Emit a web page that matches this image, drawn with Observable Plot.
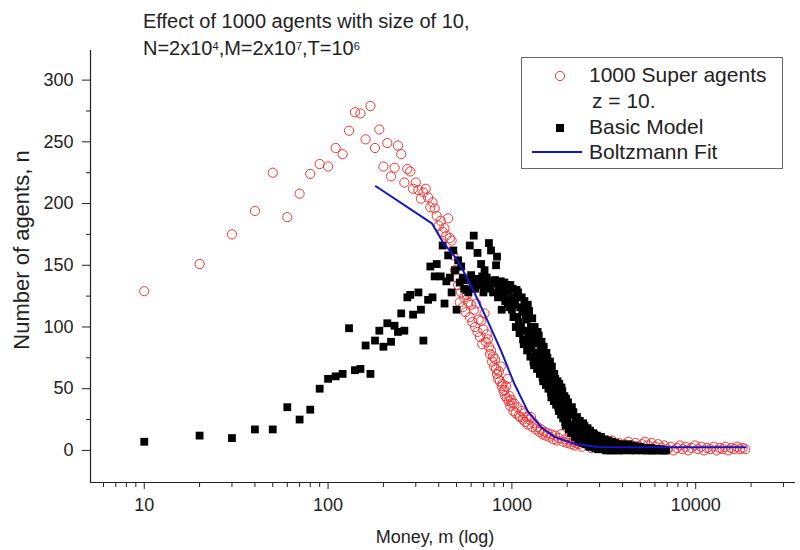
<!DOCTYPE html>
<html><head><meta charset="utf-8">
<script src="https://cdn.jsdelivr.net/npm/d3@7"></script>
<script src="https://cdn.jsdelivr.net/npm/@observablehq/plot@0.6"></script>
<style>
body{margin:0;background:#fff;font-family:"Liberation Sans",Arial,sans-serif;color:#222;}
#wrap{position:relative;width:800px;height:550px;overflow:hidden;}
.abs{position:absolute;white-space:nowrap;}
#title{left:143px;top:8px;font-size:20px;line-height:27px;}
#title sup{font-size:11px;vertical-align:top;position:relative;top:-2px;}
#legend{left:521px;top:57px;width:260px;height:110px;border:1px solid #666;background:#fff;}
.lt{font-size:21px;line-height:24px;}
#xlabel{left:0;width:800px;text-align:center;top:527px;font-size:18px;padding-left:70px;box-sizing:border-box;}
#ylabel{font-size:22px;left:22px;top:250px;transform:translate(-50%,-50%) rotate(-90deg);}
</style></head><body>
<div id="wrap">
<div id="chart"></div>
<div id="title" class="abs">Effect of 1000 agents with size of 10,<br>N=2x10<sup>4</sup>,M=2x10<sup>7</sup>,T=10<sup>6</sup></div>
<div id="legend" class="abs"></div>
<svg class="abs" style="left:0;top:0" width="800" height="550" id="legsym"></svg>
<div class="abs lt" style="left:589px;top:63px">1000 Super agents</div>
<div class="abs lt" style="left:592px;top:89px">z = 10.</div>
<div class="abs lt" style="left:589px;top:115px">Basic Model</div>
<div class="abs lt" style="left:589px;top:140px">Boltzmann Fit</div>
<div id="xlabel" class="abs">Money, m (log)</div>
<div id="ylabel" class="abs">Number of agents, n</div>
</div>
<script>
// Series values: [money m, number of agents n]
const superAgents = [
[10,129],[20,151],[30,175],[40,194],[50,225],[60,189],[70,208],[80,224],[90,232],[100,230],
[110,245],[120,240],[130,259],[140,274],[150,273],[160,252],[170,279],[180,245],[190,260],[200,230],
[210,249],[220,222],[230,229],[240,247],[250,240],[260,217],[270,228],[280,226],[290,212],[300,217],
[310,211],[320,204],[330,209],[340,212],[350,205],[360,197],[370,201],[380,196],[390,190],[400,182],
[410,186],[420,177],[430,180],[440,174],[450,188],[460,172],[470,170],[480,158],[490,146],[500,140],
[510,134],[520,120],[530,128],[540,116],[550,124],[560,112],[570,126],[580,120],[590,108],[600,118],
[610,104],[620,114],[630,100],[640,119],[650,96],[660,106],[670,92],[680,105],[690,86],[700,98],
[710,111],[720,88],[730,94],[740,90],[750,84],[760,78],[770,81],[780,72],[790,76],[800,68],
[810,74],[820,66],[830,62],[840,58],[850,64],[860,56],[870,68],[880,52],[890,54],[900,48],
[910,49],[920,44],[930,52],[940,42],[950,58],[960,40],[970,44],[980,36],[990,41],[1000,38],
[1020,32],[1030,38],[1050,30],[1070,35],[1090,28],[1110,27],[1130,32],[1150,25],[1160,30],[1180,23],
[1200,27],[1220,21],[1250,25],[1270,27],[1290,19],[1320,22],[1350,17],[1380,19],[1410,15],[1440,17],
[1470,13],[1500,15],[1530,12],[1560,14],[1600,11],[1640,13],[1680,9],[1720,12],[1760,8],[1800,10],
[1850,13],[1900,7],[1950,9],[2000,6],[2050,8],[2100,5],[2150,7],[2200,4],[2250,6],[2300,5],
[2400,3],[2500,6],[2600,4],[2700,2],[2800,5],[2900,3],[3000,6],[3100,4],[3200,2],[3350,5],
[3500,8],[3650,4],[3800,6],[3950,3],[4100,5],[4300,7],[4500,4],[4700,6],[4900,3],[5100,5],
[5300,7],[5500,4],[5750,6],[6000,3],[6250,5],[6500,2],[6750,4],[7000,1],[7300,3],[7600,0],
[7900,2],[8200,4],[8500,1],[8800,3],[9100,0],[9500,2],[9900,4],[10300,1],[10700,3],[11100,0],
[11500,2],[12000,1],[12500,3],[13000,0],[13500,2],[14000,1],[14500,3],[15000,0],[15600,2],[16200,1],
[16800,3],[17400,1],[18000,2],[18600,1]
];
const basicModel = [
[10,7],[20,12],[30,10],[40,17],[50,17],[60,35],[70,25],[80,33],[90,50],[100,58],
[110,60],[120,62],[130,99],[140,65],[150,66],[160,85],[170,62],[180,89],[190,97],[200,84],
[210,103],[220,88],[230,101],[240,96],[250,111],[260,97],[270,124],[280,126],[290,110],[310,128],
[320,114],[330,89],[350,122],[360,149],[370,124],[380,141],[390,151],[410,141],[420,166],[430,119],
[440,137],[450,158],[460,140],[470,128],[480,162],[490,146],[500,114],[510,154],[520,136],[530,149],
[540,140],[550,131],[560,138],[570,130],[580,128],[590,166],[600,142],[610,136],[620,174],[630,131],
[640,139],[650,160],[660,134],[670,138],[680,151],[690,141],[700,128],[710,146],[720,133],[730,140],
[740,137],[750,168],[760,131],[770,162],[780,136],[790,128],[800,135],[810,138],[820,150],[830,157],
[840,124],[850,133],[860,129],[870,137],[880,114],[890,134],[900,126],[910,136],[920,121],[930,132],
[940,134],[950,119],[960,130],[970,116],[980,134],[990,124],
[1000,114],[1010,131],[1020,108],[1030,122],[1040,118],[1050,100],[1060,130],[1070,108],
[1080,128],[1090,104],[1100,95],[1110,116],[1120,100],[1130,124],[1140,112],[1150,90],
[1160,86],[1170,121],[1180,97],[1190,110],[1200,106],[1210,81],[1220,118],[1230,92],
[1240,113],[1250,88],[1260,76],[1270,100],[1280,83],[1290,107],[1300,96],[1310,72],
[1320,69],[1330,100],[1340,79],[1350,92],[1360,87],[1370,66],[1380,96],[1390,76],
[1400,93],[1410,72],[1420,62],[1430,83],[1440,68],[1450,88],[1460,78],[1470,59],
[1480,56],[1490,84],[1500,64],[1510,75],[1520,71],[1530,53],[1540,79],[1550,61],
[1560,75],[1570,58],[1580,50],[1590,67],[1600,54],[1610,72],[1620,63],[1630,47],
[1640,43],[1650,68],[1660,50],[1670,60],[1680,56],[1690,40],[1700,62],[1710,47],
[1720,58],[1730,44],[1740,37],[1750,52],[1760,41],[1770,56],[1780,49],[1790,35],
[1800,32],[1810,54],[1820,39],[1830,47],[1840,44],[1850,29],[1860,51],[1870,36],
[1880,48],[1890,33],[1900,26],[1910,41],[1920,30],[1930,44],[1940,38],[1950,23],
[1960,20],[1970,42],[1980,27],[1990,35],
[2000,24],[2020,39],[2040,17],[2060,33],[2080,29],[2100,14],[2120,35],[2140,21],
[2160,31],[2180,18],[2200,11],[2220,26],[2240,15],[2260,27],[2280,23],[2300,9],
[2320,7],[2340,24],[2360,13],[2380,20],[2400,18],[2420,6],[2440,22],[2460,11],
[2480,20],[2500,9],[2520,5],[2540,16],[2560,8],[2580,18],[2600,14],[2620,4],
[2640,3],[2660,16],[2680,7],[2700,12],[2720,11],[2740,3],[2760,14],[2780,6],
[2800,13],[2820,5],[2840,2],[2860,9],[2880,4],[2900,12],[2920,8],[2940,1],
[2960,1],[2980,7],
[3000,3],[3050,11],[3100,1],[3150,6],[3200,9],[3250,0],[3300,5],[3350,8],[3400,2],[3450,0],
[3500,7],[3550,3],[3600,0],[3650,6],[3700,2],[3750,5],[3800,0],[3850,4],[3900,1],[3950,5],
[4000,0],[4100,3],[4200,1],[4300,5],[4400,0],[4500,2],[4600,4],[4700,0],[4800,2],[4900,1],
[5000,3],[5100,0],[5200,1],[5300,2],[5400,0],[5500,1],[5600,0],[5700,2],[5800,0],[5900,1],
[6000,0],[6150,1],[6300,0],[6450,1],[6600,0],[6750,0],[6900,0]
];
const boltzmannFit = [
[182,214],[367,184],[420,169],[507,154],[611,131],[738,105],[871,81],[1031,54],
[1217,32],[1438,19],[1700,11],[2183,5.4],[2925,2.7],[4000,2.5],[18700,2.5]
];
const xMajorTicks = [10, 100, 1000, 10000];
const xMinorTicks = [6,7,8,9,20,30,40,50,60,70,80,90,200,300,400,500,600,700,800,900,
  2000,3000,4000,5000,6000,7000,8000,9000,20000,30000];
const yMajorTicks = [0, 50, 100, 150, 200, 250, 300];
const yMinorTicks = [25, 75, 125, 175, 225, 275];
const xDomain = [5.1, 34900];
const yDomain = [-26, 324];

const redC = "#ee3535", blueC = "#1515c8";
const X = d => d[0], Y = d => d[1];

const chart = Plot.plot({
  width: 800, height: 550,
  marginLeft: 90, marginRight: 5, marginTop: 50, marginBottom: 68,
  x: {type: "log", domain: xDomain},
  y: {domain: yDomain},
  style: {fontFamily: "'Liberation Sans', Arial, sans-serif", fontSize: "18px", color: "#222", background: "white", overflow: "visible"},
  marks: [
    Plot.dot(superAgents, {x: X, y: Y, r: 4.6, stroke: redC, strokeWidth: 1, fill: "none"}),
    Plot.dot(basicModel, {x: X, y: Y, r: 4.4, symbol: "square", fill: "#000", stroke: "none"}),
    Plot.line(boltzmannFit, {x: X, y: Y, stroke: blueC, strokeWidth: 2}),
    Plot.ruleY(yDomain.slice(0, 1), {stroke: "#222", strokeWidth: 1.2}),
    Plot.ruleX(xDomain.slice(0, 1), {stroke: "#222", strokeWidth: 1.2}),
    Plot.axisX({ticks: xMajorTicks, tickSize: 7, tickPadding: 9, tickFormat: d => String(d), label: null, stroke: "#222"}),
    Plot.axisX({ticks: xMinorTicks, tickSize: 5, tickFormat: () => "", label: null, stroke: "#222"}),
    Plot.axisY({ticks: yMajorTicks, tickSize: 8, tickPadding: 9, tickFormat: d => String(d), label: null, stroke: "#222"}),
    Plot.axisY({ticks: yMinorTicks, tickSize: 4, tickFormat: () => "", label: null, stroke: "#222"})
  ]
});
document.getElementById("chart").appendChild(chart);

// legend symbols
const ls = d3.select("#legsym");
ls.append("circle").attr("cx", 560).attr("cy", 76).attr("r", 4.6).attr("fill", "none").attr("stroke", redC);
ls.append("rect").attr("x", 556).attr("y", 124).attr("width", 8).attr("height", 8).attr("fill", "#000");
ls.append("line").attr("x1", 532).attr("x2", 582).attr("y1", 152).attr("y2", 152).attr("stroke", blueC).attr("stroke-width", 2);
</script>
</body></html>
